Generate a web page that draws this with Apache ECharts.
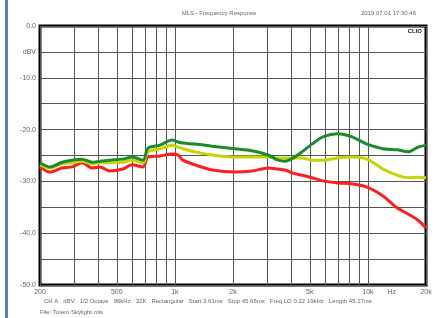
<!DOCTYPE html>
<html>
<head>
<meta charset="utf-8">
<script src="https://cdn.jsdelivr.net/npm/echarts@6/dist/echarts.min.js"></script>
<style>
  html, body { margin: 0; padding: 0; background: #fff; }
  #chart { width: 438px; height: 318px; }
</style>
</head>
<body>
<div id="chart"></div>
<script>
// frequencies (Hz)
const freqs = [200, 225, 260, 293, 330, 372, 409, 461, 538, 600, 684, 725, 837, 966, 1038, 1100,
  1270, 1560, 2050, 2510, 3040, 3420, 3720, 4090, 4560, 5130, 5850, 7000, 8270, 9890, 11970,
  14160, 16140, 18180, 20000];

// dBV values
const greenDb = [-26.4, -27.2, -26.3, -25.9, -25.7, -26.3, -26.1, -25.9, -25.7, -25.3, -25.9, -23.6,
  -23.0, -22.0, -22.4, -22.6, -22.8, -23.2, -23.7, -24.1, -24.9, -25.9, -26.1, -25.5, -24.3, -22.8,
  -21.4, -20.8, -21.4, -22.8, -23.7, -23.9, -24.3, -23.4, -23.0];
const yellowDb = [-26.8, -27.4, -26.6, -26.4, -26.1, -26.6, -26.4, -26.4, -26.3, -25.9, -26.4, -24.3,
  -23.7, -23.0, -23.4, -23.7, -24.3, -24.9, -25.3, -25.3, -25.3, -25.5, -25.5, -25.5, -25.5, -25.9,
  -25.9, -25.5, -25.3, -25.7, -27.6, -28.8, -29.3, -29.2, -29.3];
const redDb = [-27.2, -28.2, -27.4, -27.2, -26.4, -27.4, -27.2, -28.0, -27.6, -26.8, -27.2, -25.3,
  -25.1, -24.7, -24.9, -25.9, -26.8, -27.8, -28.2, -28.0, -27.4, -27.6, -27.8, -28.4, -28.8, -29.3,
  -29.9, -30.3, -30.5, -31.1, -32.8, -35.1, -36.3, -37.5, -39.0];

// grid lines and labels on the frequency axis
const gridFreqs = [200, 300, 400, 500, 600, 700, 800, 900, 1000, 2000, 3000, 4000, 5000, 6000,
  7000, 8000, 9000, 10000, 20000];
const labelFreqs = [200, 500, 1000, 2000, 5000, 10000, 13300, 20000];
const freqLabels = ['200', '500', '1k', '2k', '5k', '10k', 'Hz', '20k'];

const chart = echarts.init(document.getElementById('chart'));
const font = 'Liberation Sans, Arial, sans-serif';

function pairs(ys) {
  return freqs.map((f, i) => [f, ys[i]]);
}

function line(name, color, ys) {
  return {
    name: name,
    type: 'line',
    data: pairs(ys),
    symbol: 'none',
    smooth: 0.3,
    lineStyle: { color: color, width: 3 },
    z: 3
  };
}

let option = {
  animation: false,
  backgroundColor: '#fff',
  grid: {
    left: 40, right: 12, top: 26, bottom: 33,
    show: true, borderColor: '#000', borderWidth: 3
  },
  xAxis: {
    type: 'log',
    logBase: 10,
    min: 200,
    max: 20000,
    axisLine: { show: false },
    axisTick: { show: false, customValues: gridFreqs },
    splitLine: { show: true, lineStyle: { color: '#555', width: 1 } },
    axisLabel: {
      customValues: labelFreqs,
      formatter: (v) => freqLabels[labelFreqs.indexOf(Math.round(v))] || '',
      fontSize: 7, color: '#666', fontFamily: font, margin: 4
    }
  },
  yAxis: {
    type: 'value',
    min: -50,
    max: 0,
    interval: 5,
    axisLine: { show: false },
    axisTick: { show: false },
    splitLine: { show: true, lineStyle: { color: '#555', width: 1 } },
    axisLabel: {
      formatter: (v) => v === -5 ? 'dBV' : (v % 10 === 0 ? v.toFixed(1) : ''),
      fontSize: 7, color: '#666', fontFamily: font, margin: 4
    }
  },
  graphic: [
    { type: 'rect', left: 5, top: 0, shape: { width: 3, height: 318 }, style: { fill: '#4f86b3' } },
    { type: 'text', left: 'center', top: 10, style: { text: 'MLS - Frequency Response', fontSize: 6, fill: '#666', font: '6px ' + font } },
    { type: 'text', right: 22, top: 10, style: { text: '2019.07.01 17:30:46', fill: '#666', font: '6px ' + font } },
    { type: 'text', right: 16, top: 28, z: 10, style: { text: 'CLIO', fill: '#222', font: 'bold 6px ' + font } },
    { type: 'text', left: 44, top: 298, style: { text: 'CH A   dBV   1/2 Octave   96kHz   32K   Rectangular   Start 3.61ms   Stop 45.66ms   Freq LO 0.22 19kHz   Length 45.17ms', fill: '#666', font: '6px ' + font } },
    { type: 'text', left: 40, top: 309, style: { text: 'File: Totem Skylight.mls', fill: '#666', font: '6px ' + font } }
  ],
  series: [
    line('red', '#ff1f1f', redDb),
    line('yellow', '#c4d600', yellowDb),
    line('green', '#1a8c2a', greenDb)
  ]
};

chart.setOption(option);
</script>
</body>
</html>
